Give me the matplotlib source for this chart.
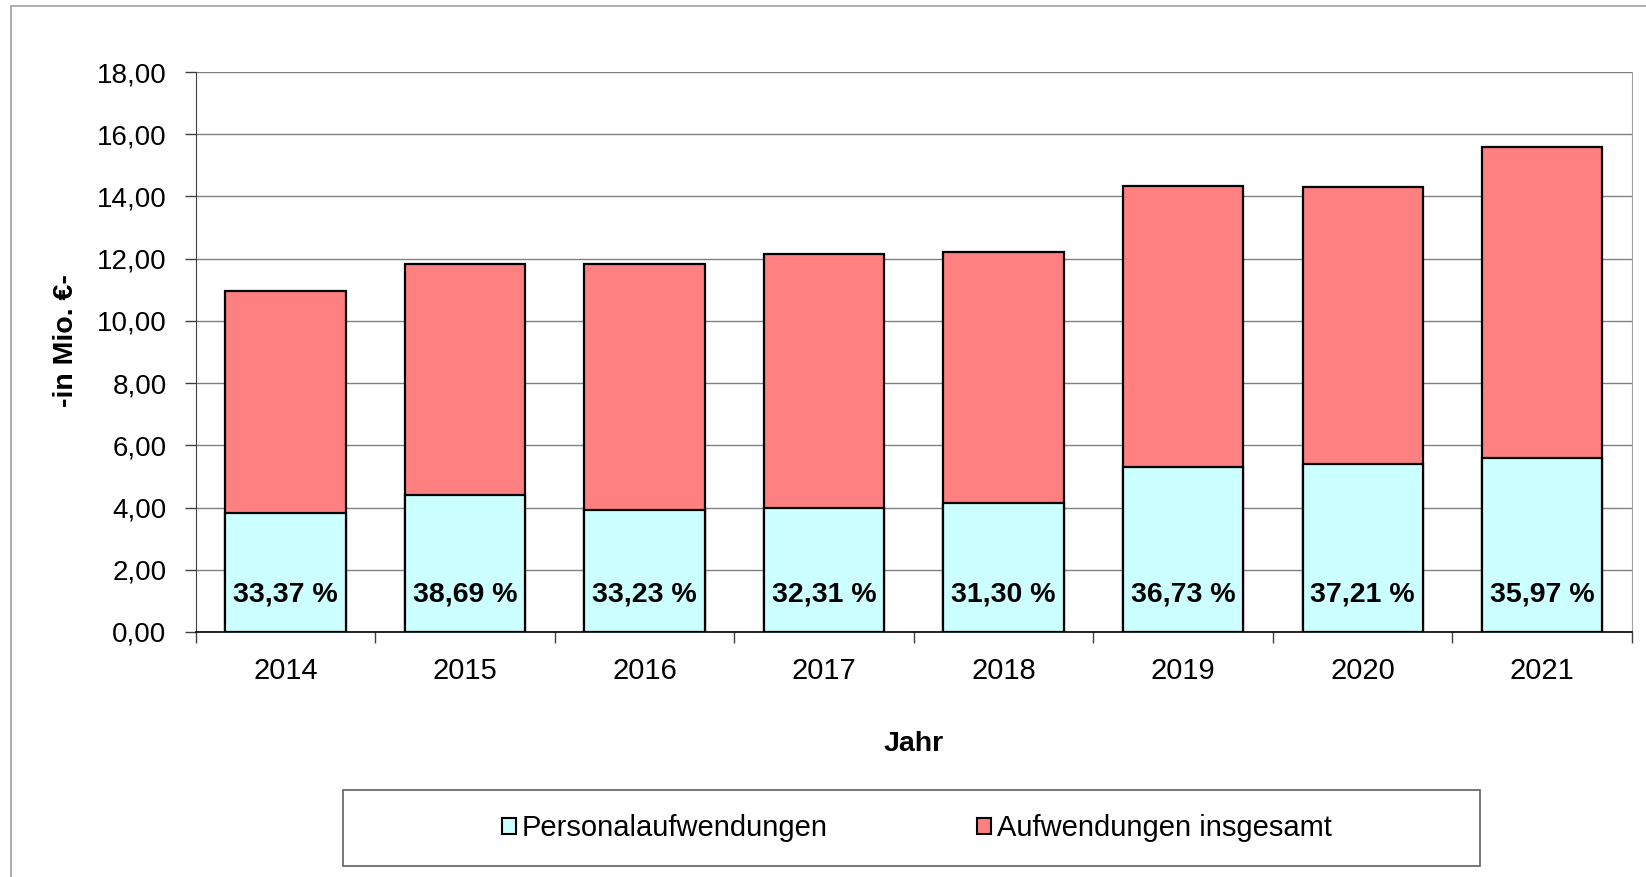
import matplotlib
matplotlib.use("Agg")
import matplotlib.pyplot as plt
from matplotlib.patches import Rectangle, Patch

plt.rcParams['font.family'] = ['Liberation Sans', 'DejaVu Sans']

# values in Mio. EUR
jahre = ["2014", "2015", "2016", "2017", "2018", "2019", "2020", "2021"]
gesamt = [10.97, 11.84, 11.82, 12.15, 12.22, 14.35, 14.29, 15.59]
personal = [3.82, 4.40, 3.93, 3.97, 4.16, 5.30, 5.40, 5.60]
anteil = ["33,37 %", "38,69 %", "33,23 %", "32,31 %", "31,30 %", "36,73 %", "37,21 %", "35,97 %"]

rot = "#FF8080"
cyan = "#CCFFFF"

fig = plt.figure(figsize=(16.46, 8.77), dpi=100)
ax = fig.add_axes([0.1189, 0.2794, 0.8726, 0.6385])

x = range(len(jahre))
ax.bar(x, gesamt, width=0.67, color=rot, edgecolor="black", linewidth=1.6, zorder=2)
ax.bar(x, personal, width=0.67, color=cyan, edgecolor="black", linewidth=1.6, zorder=3)

for i, t in enumerate(anteil):
    ax.text(i, 1.2, t, ha="center", va="center", fontsize=20.5, fontweight="bold", zorder=4)

ax.set_xlim(-0.5, len(jahre) - 0.5)
ax.set_ylim(0, 18)
ax.set_yticks(range(0, 19, 2))
ax.set_yticklabels([("%.2f" % v).replace(".", ",") for v in range(0, 19, 2)])
ax.yaxis.grid(True, color="#808080", linewidth=1.0, zorder=0)
ax.set_axisbelow(True)

# year labels centered, ticks between categories
ax.set_xticks(list(x))
ax.set_xticklabels(jahre)
ax.set_xticks([i + 0.5 for i in range(-1, len(jahre))], minor=True)
ax.tick_params(axis="x", which="major", length=0, pad=18, labelsize=21)
ax.tick_params(axis="x", which="minor", length=8, width=1, color="#404040")
ax.tick_params(axis="y", length=8, width=1, color="#404040", pad=13, labelsize=20)

ax.spines["top"].set_visible(False)
ax.spines["right"].set_color("#a0a0a0")
ax.spines["left"].set_color("#404040")
ax.spines["bottom"].set_color("black")
ax.spines["bottom"].set_linewidth(1.2)

ax.set_xlabel("Jahr", fontsize=20.5, fontweight="bold")
ax.xaxis.set_label_coords(0.5, -0.176)
ax.set_ylabel("-in Mio. €-", fontsize=20.5, fontweight="bold")
ax.yaxis.set_label_coords(-0.081, 0.52)

# outer chart border
fig.patches.append(Rectangle((11 / 1646, -0.05), 1.1, 0.05 + (877 - 6) / 877,
                             transform=fig.transFigure, fill=False,
                             edgecolor="#a0a0a0", linewidth=1.2))

# legend box
fig.patches.append(Rectangle((343 / 1646, 1 - 866 / 877), (1480 - 343) / 1646, 76 / 877,
                             transform=fig.transFigure, fill=False,
                             edgecolor="#606060", linewidth=1.2))
handles = [Patch(facecolor=cyan, edgecolor="black", linewidth=1.5),
           Patch(facecolor=rot, edgecolor="black", linewidth=1.5)]
fig.legend(handles, ["Personalaufwendungen", "Aufwendungen insgesamt"],
           loc="center", bbox_to_anchor=(0.557, 1 - 828 / 877), ncol=2,
           frameon=False, fontsize=21, handlelength=0.48, handleheight=0.48,
           handletextpad=0.22, columnspacing=5.1)

fig.savefig("out.png", dpi=100)
